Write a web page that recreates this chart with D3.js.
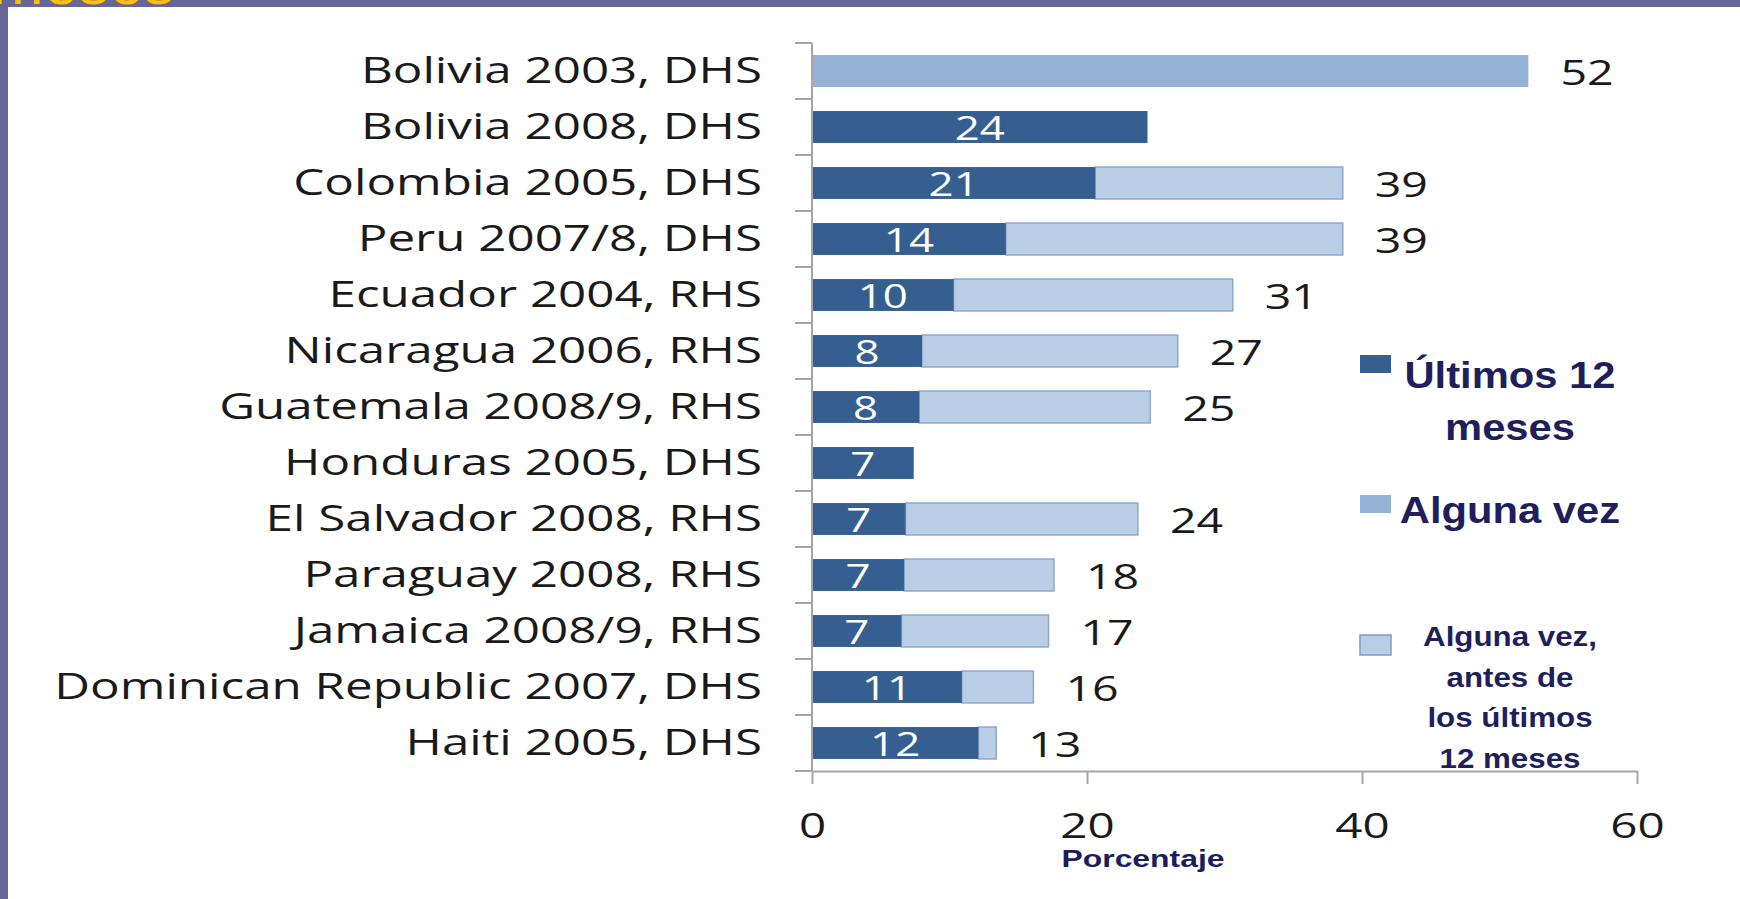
<!DOCTYPE html>
<html>
    <head>
        <meta charset="utf-8">
        <title>Violencia de pareja</title>
        <script src="https://d3js.org/d3.v7.min.js"></script>
        <style>
            body { margin: 0; background: #fff; }
            svg { display: block; }
        </style>
    </head>
    <body>
        <script type="text/javascript">
        const categories = ["Bolivia 2003, DHS", "Bolivia 2008, DHS", "Colombia 2005, DHS", "Peru 2007/8, DHS",
            "Ecuador 2004, RHS", "Nicaragua 2006, RHS", "Guatemala 2008/9, RHS", "Honduras 2005, DHS",
            "El Salvador 2008, RHS", "Paraguay 2008, RHS", "Jamaica 2008/9, RHS",
            "Dominican Republic 2007, DHS", "Haiti 2005, DHS"];
        // ultimos 12 meses (dark) and alguna vez (total)
        const ultimos12 = [null, 24.4, 20.6, 14.1, 10.3, 8.0, 7.8, 7.4, 6.8, 6.7, 6.5, 10.9, 12.1];
        const algunaVez = [52.1, null, 38.6, 38.6, 30.6, 26.6, 24.6, null, 23.7, 17.6, 17.2, 16.1, 13.4];
        const xTicks = [0, 20, 40, 60];
        const legendLabels = [["Últimos 12", "meses"], ["Alguna vez"], ["Alguna vez,", "antes de", "los últimos", "12 meses"]];
        const axisTitle = "Porcentaje";

        const w = 1740;
        const h = 899;
        const sx = 1.33;   // the original picture is stretched sideways
        const dark = "#365f91", mid = "#95b3d7", light = "#b9cde5";

        const rows = categories.map((c, i) => ({ cat: c, u: ultimos12[i], t: algunaVez[i] }));

        const svg = d3.select("body").append("svg").attr("width", w).attr("height", h);

        // slide frame
        svg.append("rect").attr("x", 0).attr("y", 0).attr("width", w).attr("height", 7).attr("fill", "#666699");
        svg.append("rect").attr("x", 0).attr("y", 0).attr("width", 8).attr("height", h).attr("fill", "#666699");
        svg.append("text").text("meses")
            .attr("x", -8).attr("y", 4)
            .attr("font-family", "Liberation Sans, Arial, sans-serif").attr("font-size", 62)
            .attr("fill", "#ffc000");

        const xScale = d3.scaleLinear().domain([0, 60]).range([812, 1637]);
        const yScale = d3.scaleBand().domain(categories).range([43, 771])
            .paddingInner(0.43).paddingOuter(0.215);

        // bars
        const bars = svg.append("g");
        bars.selectAll("rect.total").data(rows.filter(d => d.t != null)).enter().append("rect")
            .attr("class", "total")
            .attr("x", d => xScale(d.u == null ? 0 : d.u))
            .attr("y", d => yScale(d.cat))
            .attr("width", d => xScale(d.t) - xScale(d.u == null ? 0 : d.u))
            .attr("height", yScale.bandwidth())
            .attr("fill", d => d.u == null ? mid : light)
            .attr("stroke", d => d.u == null ? "none" : "#8ca8cd")
            .attr("stroke-width", 1.5);
        bars.selectAll("rect.ult").data(rows.filter(d => d.u != null)).enter().append("rect")
            .attr("class", "ult")
            .attr("x", xScale(0))
            .attr("y", d => yScale(d.cat))
            .attr("width", d => xScale(d.u) - xScale(0))
            .attr("height", yScale.bandwidth())
            .attr("fill", dark);

        const fmt = d3.format(".0f");
        const mid_y = d => yScale(d.cat) + yScale.bandwidth() / 2;

        bars.selectAll("text.inner").data(rows.filter(d => d.u != null)).enter().append("text")
            .attr("class", "inner")
            .text(d => fmt(d.u))
            .attr("transform", d => `translate(${(xScale(0) + xScale(d.u)) / 2},${mid_y(d) + 13}) scale(${sx},1)`)
            .attr("text-anchor", "middle")
            .attr("font-family", "Open Sans, sans-serif").attr("font-size", 33)
            .attr("fill", "#fff");

        bars.selectAll("text.outer").data(rows.filter(d => d.t != null)).enter().append("text")
            .attr("class", "outer")
            .text(d => fmt(d.t))
            .attr("transform", d => `translate(${xScale(d.t) + 32},${mid_y(d) + 14}) scale(${sx},1)`)
            .attr("font-family", "Open Sans, sans-serif").attr("font-size", 35)
            .attr("fill", "#1a1a1a");

        // axes
        const axisColor = "#a6a6a6";
        const yAxis = svg.append("g")
            .attr("transform", "translate(" + xScale(0) + ",0)")
            .call(d3.axisLeft(yScale).tickSize(0).tickSizeOuter(0));
        yAxis.select(".domain").remove();
        yAxis.selectAll("text")
            .attr("x", null).attr("dy", "0.34em")
            .attr("transform", `translate(-50,0) scale(1.37,1)`)
            .attr("font-family", "Open Sans, sans-serif").attr("font-size", 36)
            .attr("fill", "#1a1a1a");

        const y0 = yScale.range()[0];
        svg.append("g").selectAll("line").data(d3.range(categories.length + 1)).enter().append("line")
            .attr("x1", xScale(0) - 17).attr("x2", xScale(0))
            .attr("y1", i => y0 + i * yScale.step()).attr("y2", i => y0 + i * yScale.step())
            .attr("stroke", axisColor).attr("stroke-width", 2);
        svg.append("line")
            .attr("x1", xScale(0)).attr("x2", xScale(0))
            .attr("y1", y0).attr("y2", yScale.range()[1] + 1)
            .attr("stroke", axisColor).attr("stroke-width", 2);

        const xAxis = svg.append("g")
            .attr("transform", "translate(0," + yScale.range()[1] + ")")
            .call(d3.axisBottom(xScale).tickValues(xTicks).tickSize(13).tickSizeOuter(0));
        xAxis.select(".domain").attr("stroke", axisColor).attr("stroke-width", 2);
        xAxis.selectAll(".tick line").attr("stroke", axisColor).attr("stroke-width", 2);
        xAxis.selectAll("text")
            .attr("y", null).attr("dy", null)
            .attr("transform", `translate(0,67) scale(1.36,1)`)
            .attr("font-family", "Open Sans, sans-serif").attr("font-size", 35)
            .attr("fill", "#1a1a1a");

        svg.append("text").text(axisTitle)
            .attr("transform", `translate(1143,867) scale(${sx},1)`)
            .attr("text-anchor", "middle")
            .attr("font-family", "Liberation Sans, Arial, sans-serif").attr("font-weight", "bold")
            .attr("font-size", 24).attr("fill", "#1c1c5e");

        // legend
        const legend = [
            { fill: dark, stroke: "none", y: 355, hgt: 18, size: 36, first: 33, lh: 52 },
            { fill: mid, stroke: "none", y: 495, hgt: 18, size: 36, first: 28, lh: 52 },
            { fill: light, stroke: "#7f9cc4", y: 635, hgt: 20, size: 27, first: 11, lh: 40.7 }
        ];
        legend.forEach((l, i) => {
            svg.append("rect")
                .attr("x", 1360).attr("y", l.y).attr("width", 31).attr("height", l.hgt)
                .attr("fill", l.fill).attr("stroke", l.stroke).attr("stroke-width", 1.5);
            legendLabels[i].forEach((line, j) => {
                svg.append("text").text(line)
                    .attr("transform", `translate(1510,${l.y + l.first + j * l.lh}) scale(1.16,1)`)
                    .attr("text-anchor", "middle")
                    .attr("font-family", "Liberation Sans, Arial, sans-serif").attr("font-weight", "bold")
                    .attr("font-size", l.size).attr("fill", "#1f1f5c");
            });
        });
        </script>
    </body>
</html>
